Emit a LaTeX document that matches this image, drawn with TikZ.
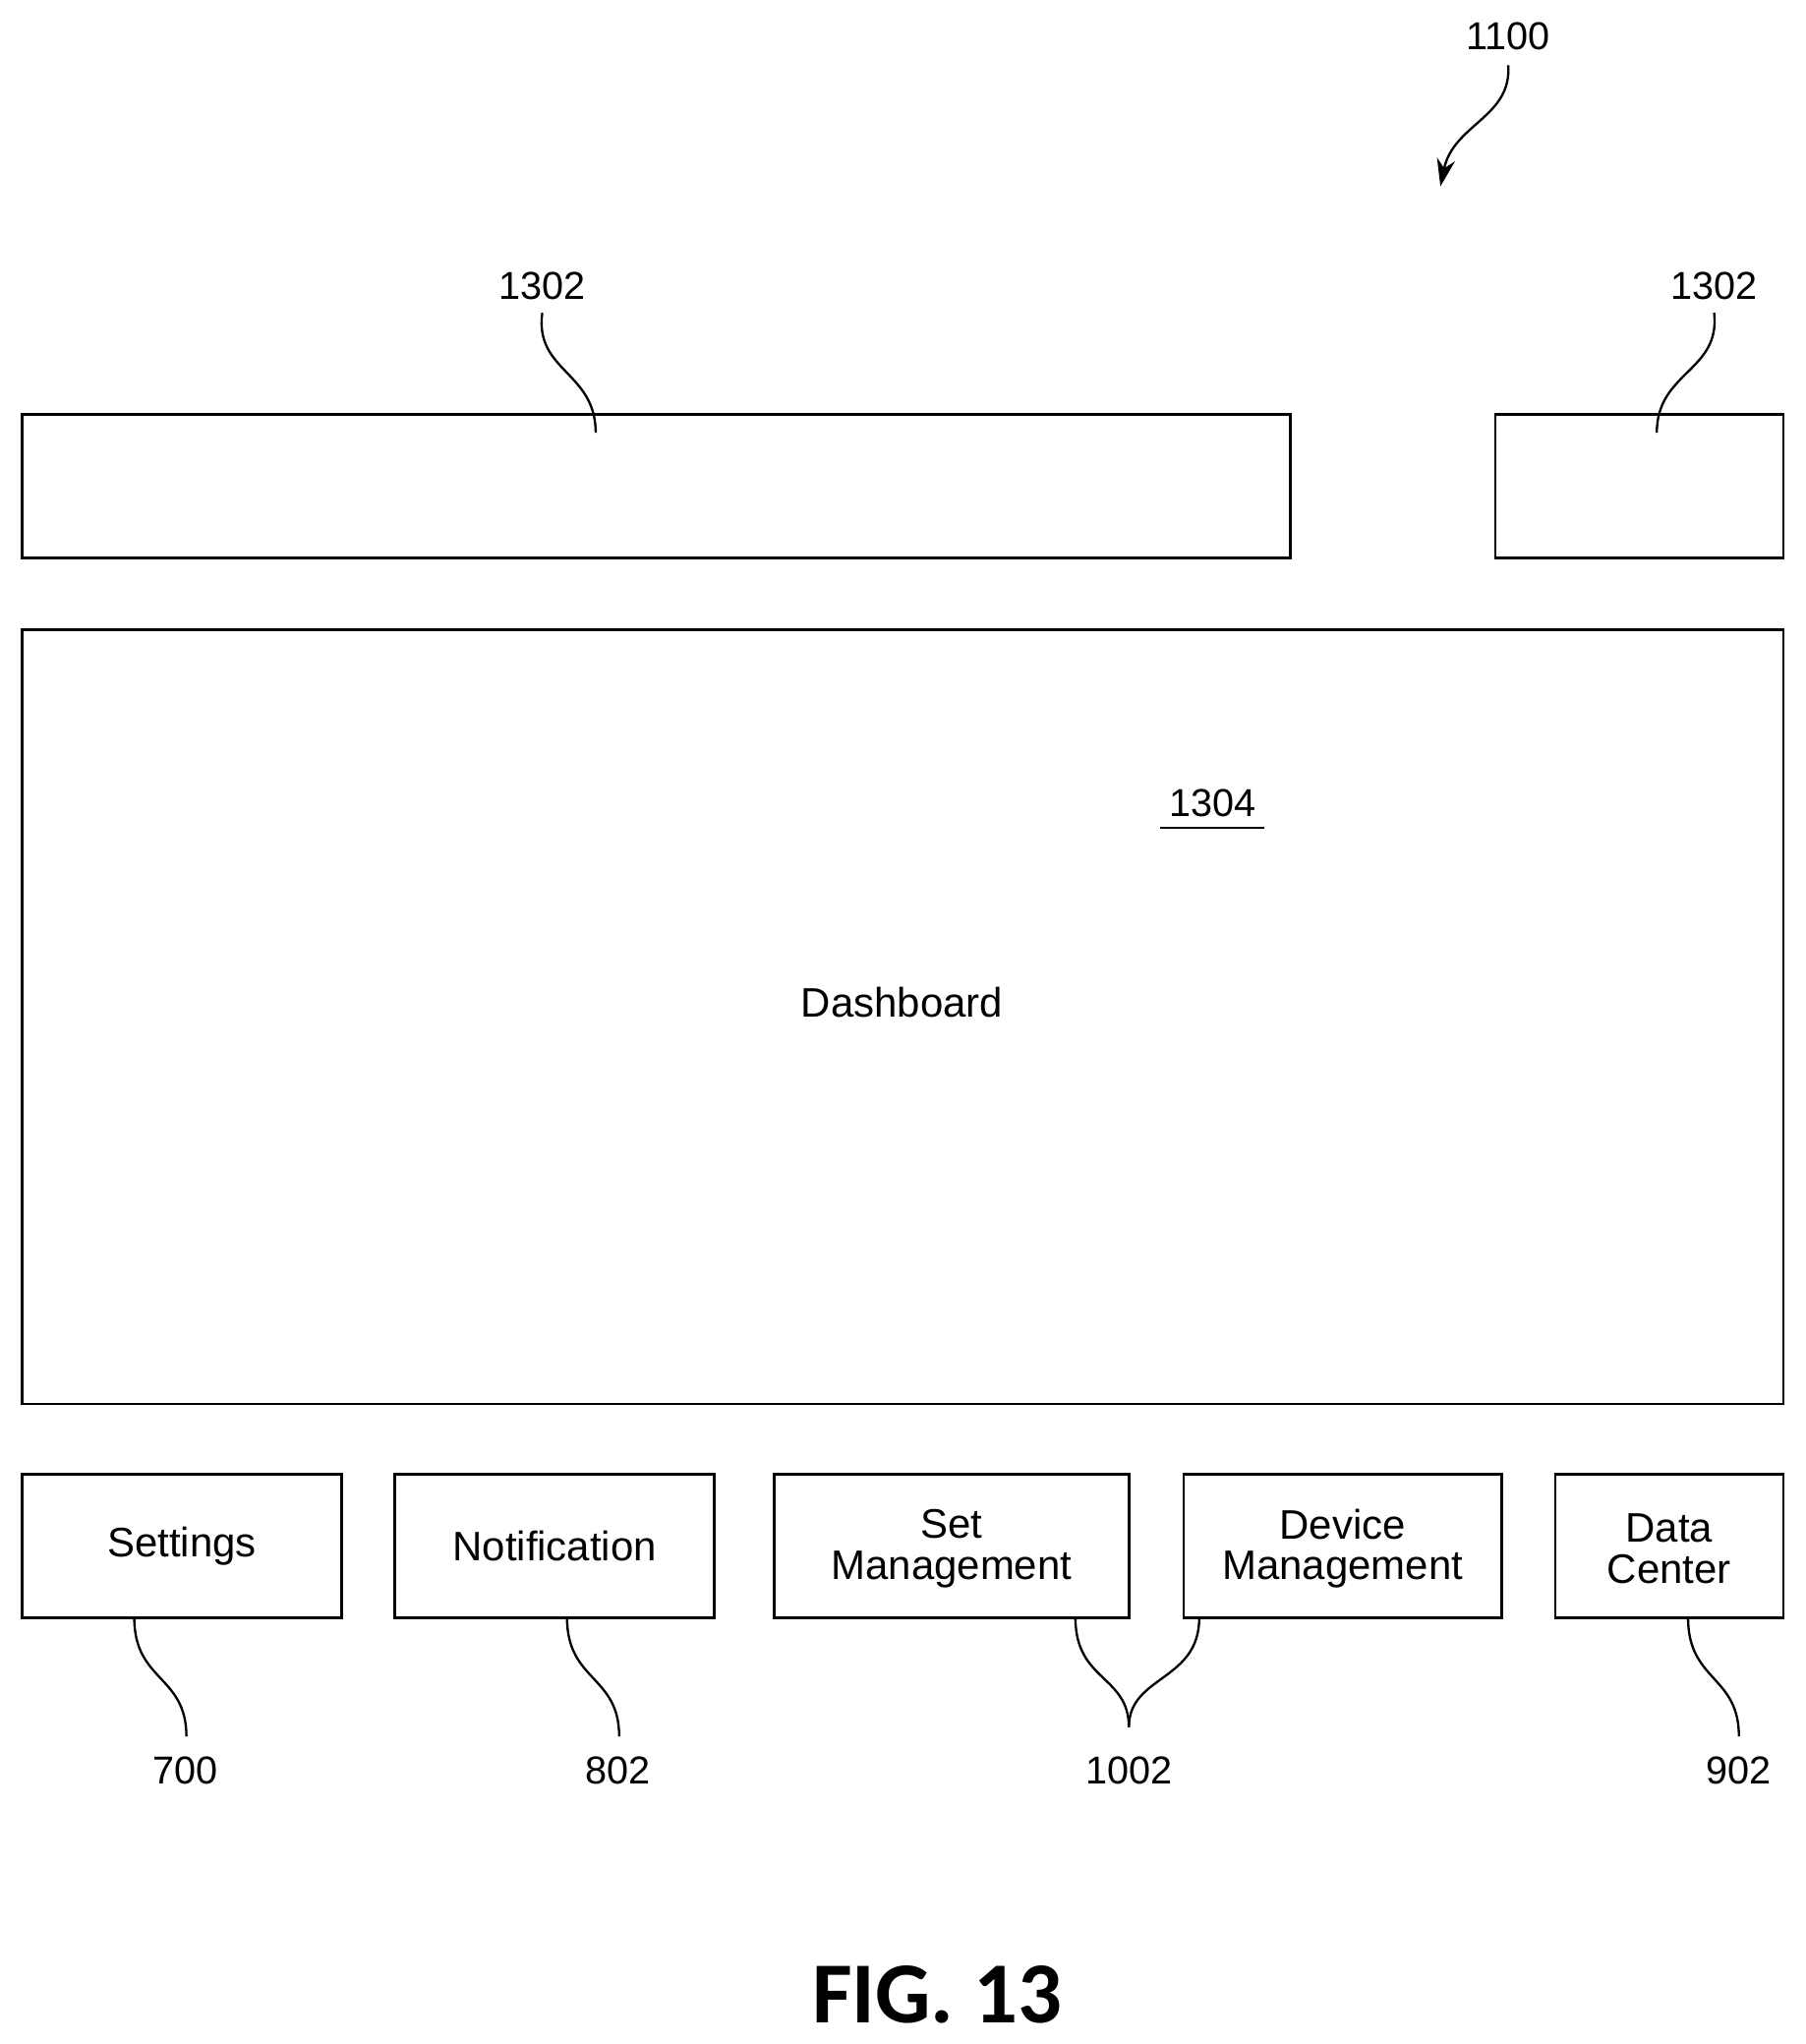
\documentclass[tikz,border=0pt]{standalone}
\usepackage{fontspec}
\setmainfont{Liberation Sans}
\newfontfamily\figfont{Carlito}
\usetikzlibrary{arrows.meta}
\begin{document}
\begin{tikzpicture}[x=0.02cm,y=-0.02cm,
  box/.style={draw,line width=1.1pt},
  lbl/.style={font=\fontsize{17}{20}\selectfont},
  txt/.style={font=\fontsize{18}{22}\selectfont,align=center},
  lead/.style={line width=1pt}]
\useasboundingbox (0,0) rectangle (1385,1568);
% boxes
\draw[box] (17,318) rectangle (990,428);
\draw[box] (1147,318) rectangle (1368,428);
\draw[box] (17,483) rectangle (1368,1077);
\draw[box] (17,1131) rectangle (262,1241);
\draw[box] (303,1131) rectangle (548,1241);
\draw[box] (594,1131) rectangle (866,1241);
\draw[box] (908,1131) rectangle (1152,1241);
\draw[box] (1193,1131) rectangle (1368,1241);
\node[txt] (set) at (139.5,1186) {Settings};
\node[txt] (not) at (425.5,1186) {Notification};
\node[txt] (sm) at (730,1188) {Set\\[-4pt]Management};
\node[txt] (dm) at (1030,1188) {Device\\[-4pt]Management};
\node[txt] (dc) at (1280.5,1188) {Data\\[-4pt]Center};
\node[txt] (dash) at (692,769) {Dashboard};
\node[lbl] (n1304) at (930,616) {1304};
\draw[line width=1pt] (890,635) -- (970,635);
% labels
\node[lbl] (n1100) at (1157,28) {1100};
\node[lbl] (n1302a) at (416,219) {1302};
\node[lbl] (n1302b) at (1315,219) {1302};
\node[lbl] (n700) at (142,1358) {700};
\node[lbl] (n802) at (474,1358) {802};
\node[lbl] (n1002) at (866,1358) {1002};
\node[lbl] (n902) at (1334,1358) {902};
% leader coordinates
\coordinate (a1) at (1157,50); \coordinate (a2) at (1105,143);
\coordinate (b1) at (416,240); \coordinate (b2) at (457,332);
\coordinate (c1) at (1315,240); \coordinate (c2) at (1271,332);
\coordinate (d1) at (103,1241); \coordinate (d2) at (143,1332);
\coordinate (e1) at (435,1241); \coordinate (e2) at (475,1332);
\coordinate (f1) at (825,1241); \coordinate (f2) at (920,1241); \coordinate (f3) at (866,1325);
\coordinate (g1) at (1295,1241); \coordinate (g2) at (1334,1332);
\draw[lead,-{Stealth[length=12pt,width=8pt]}] (a1) .. controls (1160,90) and (1115,95) .. (a2);
\draw[lead] (b1) .. controls (410,285) and (457,285) .. (b2);
\draw[lead] (c1) .. controls (1320,285) and (1271,285) .. (c2);
\draw[lead] (d1) .. controls (103,1290) and (143,1285) .. (d2);
\draw[lead] (e1) .. controls (435,1290) and (475,1285) .. (e2);
\draw[lead] (f1) .. controls (825,1290) and (866,1285) .. (f3);
\draw[lead] (f2) .. controls (920,1290) and (866,1285) .. (f3);
\draw[lead] (g1) .. controls (1295,1290) and (1334,1285) .. (g2);
\node[font=\figfont\bfseries\fontsize{38}{44}\selectfont] (fig) at (719,1530) {FIG. 13};
\end{tikzpicture}
\end{document}
